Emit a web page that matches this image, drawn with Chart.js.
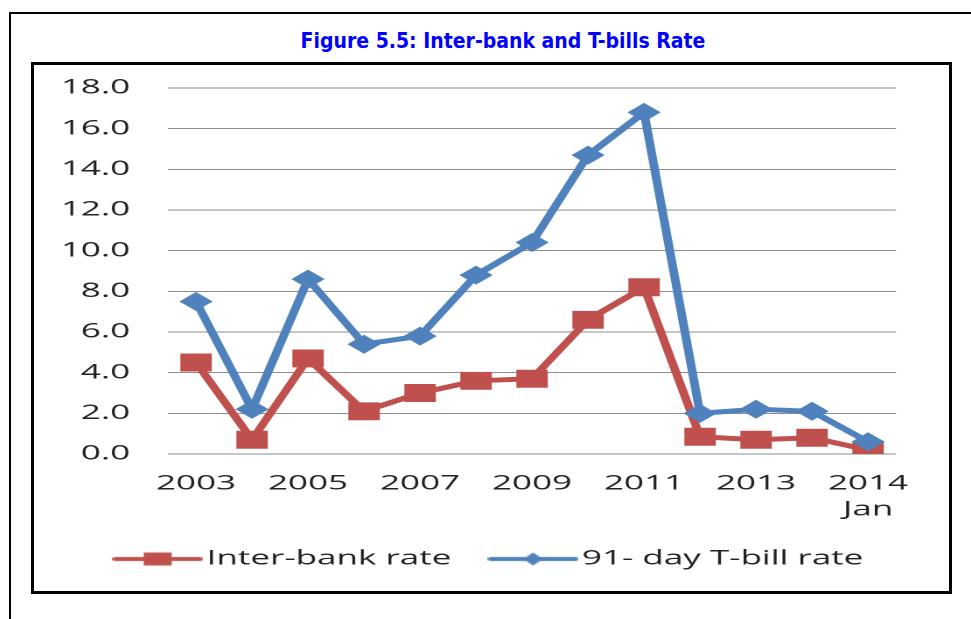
<!DOCTYPE html>
<html>
<head>
<meta charset="utf-8">
<script src="https://cdn.jsdelivr.net/npm/chart.js@4"></script>
<style>
  html, body { margin: 0; padding: 0; background: #fff; }
  body { width: 971px; height: 619px; position: relative; overflow: hidden; }
  .frame { position: absolute; left: 9px; top: 12px; width: 1000px; height: 700px;
           border-left: 2px solid #000; border-top: 2px solid #000; }
  .title { position: absolute; left: 503px; top: 31px; transform: translateX(-50%);
           white-space: nowrap; color: #0000ff;
           font: bold 21px/21px "Liberation Sans Narrow", "DejaVu Sans Condensed", sans-serif; }
  .box { position: absolute; left: 31px; top: 62px; width: 915px; height: 526px;
         border: 3px solid #000; }
  /* the chart is drawn narrow and stretched sideways, like the pasted picture */
  #chart { position: absolute; left: 0; top: 0; transform: scaleX(1.75); transform-origin: 0 0; }
</style>
</head>
<body>
<div class="frame"></div>
<div class="title">Figure 5.5: Inter-bank and T-bills Rate</div>
<div class="box"><canvas id="chart" width="523" height="526"></canvas></div>
<script>
const years = ['2003', '2004', '2005', '2006', '2007', '2008', '2009', '2010',
               '2011', '2012', '2013', '2014', ['2014', 'Jan']]
const interbank = [4.5, 0.7, 4.7, 2.1, 3.0, 3.6, 3.7, 6.6, 8.2, 0.85, 0.7, 0.8, 0.2]
const tbill = [7.5, 2.2, 8.6, 5.4, 5.8, 8.8, 10.4, 14.7, 16.8, 2.0, 2.2, 2.1, 0.6]
const yTicks = [0, 2, 4, 6, 8, 10, 12, 14, 16, 18]

const RED = '#c0504d'
const BLUE = '#4f81bd'
const FONT = '"Open Sans", "Liberation Sans", sans-serif'

// legend swatch: short line with the marker in the middle
function legendIcon(color, shape) {
  const c = document.createElement('canvas')
  c.width = 52; c.height = 16
  const g = c.getContext('2d')
  g.strokeStyle = color; g.fillStyle = color; g.lineWidth = 4; g.lineCap = 'round'
  g.beginPath(); g.moveTo(2, 8); g.lineTo(50, 8); g.stroke()
  g.beginPath()
  if (shape === 'square') {
    g.rect(18, 1.5, 16, 13)
  } else {
    g.moveTo(20.3, 8); g.lineTo(26, 1.5); g.lineTo(31.7, 8); g.lineTo(26, 14.5); g.closePath()
  }
  g.fill()
  return c
}
const icons = [legendIcon(RED, 'square'), legendIcon(BLUE, 'diamond')]

// the legend sits a little right of centre
const nudgeLegend = {
  id: 'nudgeLegend',
  afterLayout(chart) {
    chart.legend.left += 12
    chart.legend.right += 12
  }
}

new Chart(document.getElementById('chart'), {
  type: 'line',
  data: {
    labels: years,
    datasets: [
      { label: 'Inter-bank rate', data: interbank, borderColor: RED, backgroundColor: RED,
        borderWidth: 5, pointStyle: 'rect', pointRadius: 12.7, pointHoverRadius: 12.7,
        pointBorderWidth: 0, tension: 0, order: 1 },
      { label: '91- day T-bill rate', data: tbill, borderColor: BLUE, backgroundColor: BLUE,
        borderWidth: 5, pointStyle: 'rectRot', pointRadius: 9.5, pointHoverRadius: 9.5,
        pointBorderWidth: 0, tension: 0, order: 0 },
    ]
  },
  plugins: [nudgeLegend],
  options: {
    responsive: false, animation: false, devicePixelRatio: 2,
    layout: { padding: { left: 10, right: 30.4, top: 23, bottom: 12 } },
    plugins: {
      tooltip: { enabled: false },
      legend: {
        position: 'bottom',
        labels: {
          usePointStyle: true, pointStyleWidth: 36, padding: 28.7, color: '#222',
          font: { family: FONT, size: 20 },
          sort: (a, b) => a.datasetIndex - b.datasetIndex,
          generateLabels(chart) {
            const items = Chart.defaults.plugins.legend.labels.generateLabels(chart)
            items.forEach(it => { it.pointStyle = icons[it.datasetIndex] })
            return items
          }
        }
      }
    },
    scales: {
      x: {
        offset: true,
        grid: { display: false, drawTicks: false },
        border: { display: false },
        afterFit(s) { s.height = 66.3 },
        ticks: {
          autoSkip: false, maxRotation: 0, minRotation: 0, padding: 17, color: '#222',
          font: { family: FONT, size: 20, lineHeight: 1.3 },
          callback(v, i) { return i % 2 ? '' : this.getLabelForValue(v) }
        }
      },
      y: {
        min: yTicks[0], max: yTicks[yTicks.length - 1],
        afterFit(s) {
          s.width = 66.6
          s.paddingTop = 0
          s.paddingBottom = 0
        },
        afterBuildTicks(s) { s.ticks = yTicks.map(v => ({ value: v })) },
        grid: { color: '#8c8c8c', lineWidth: 1, drawTicks: false },
        border: { display: false },
        ticks: {
          padding: 21.7, color: '#222',
          font: { family: FONT, size: 20 },
          callback: v => v.toFixed(1)
        }
      }
    }
  }
})
</script>
</body>
</html>
